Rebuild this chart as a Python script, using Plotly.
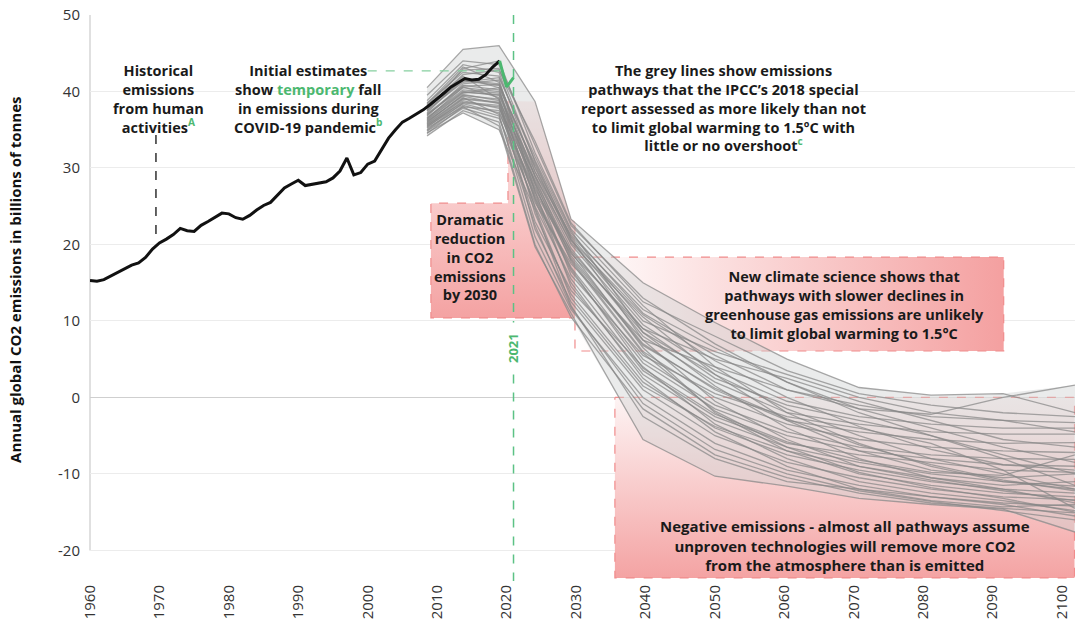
import numpy as np
import plotly.graph_objects as go

FONT = "Open Sans"

# ---------------- data ----------------
hist_years = list(range(1960, 2020))
hist_values = [15.3, 15.2, 15.4, 15.9, 16.4, 16.9, 17.3, 17.6, 18.3, 19.4,
               20.2, 20.7, 21.3, 22.1, 21.8, 21.7, 22.5, 23.0, 23.6, 24.1,
               24.0, 23.5, 23.3, 23.8, 24.5, 25.1, 25.5, 26.4, 27.4, 27.9,
               28.4, 27.7, 27.9, 28.1, 28.2, 28.7, 29.6, 31.3, 29.1, 29.4,
               30.5, 30.9, 32.4, 33.9, 35.0, 36.0, 36.5, 37.0, 37.6, 38.3,
               39.0, 39.8, 40.6, 41.1, 41.7, 41.5, 41.6, 42.2, 43.2, 44.0]

covid_years = [2019, 2020, 2021]
covid_values = [44.0, 40.6, 41.8]

path_years = [2010, 2015, 2020, 2025, 2030, 2040, 2050, 2060, 2070, 2080, 2090, 2100]
p01 = [40.5, 45.5, 46.0, 38.7, 23.3, 15.0, 9.8, 5.0, 1.3, 0.3, 0.5, -2.0]
p02 = [39.5, 44.0, 43.5, 33.0, 22.5, 13.0, 7.0, 2.0, -1.5, -2.2, 0.0, 1.6]
p03 = [38.5, 42.5, 42.0, 31.0, 21.5, 11.0, 5.5, 1.0, -1.0, -2.5, -3.0, -3.3]
p04 = [37.8, 41.5, 41.0, 30.0, 20.5, 9.5, 3.5, -0.5, -2.5, -3.5, -4.0, -4.0]
p05 = [37.0, 40.5, 40.0, 29.0, 19.5, 8.0, 2.0, -2.0, -3.5, -4.5, -4.8, -4.8]
p06 = [36.5, 40.0, 39.5, 28.0, 18.5, 7.0, 1.0, -3.0, -4.5, -5.5, -6.0, -5.9]
p07 = [36.0, 39.5, 39.0, 27.5, 18.0, 6.0, 0.0, -3.5, -5.5, -6.5, -7.0, -7.2]
p08 = [35.5, 39.0, 38.5, 26.5, 17.0, 5.0, -1.0, -4.5, -6.5, -7.5, -8.0, -8.1]
p09 = [35.0, 38.5, 38.0, 26.0, 16.5, 4.5, -1.5, -5.0, -7.0, -8.0, -8.8, -9.0]
p10 = [34.5, 38.0, 37.5, 25.0, 15.5, 3.5, -2.5, -6.0, -7.5, -8.5, -9.5, -9.8]
p11 = [36.8, 41.0, 41.5, 27.0, 14.5, 3.0, -3.0, -6.5, -8.5, -10.0, -11.0, -11.6]
p12 = [37.2, 41.8, 40.5, 24.0, 13.5, 2.0, -4.0, -7.5, -9.5, -11.0, -12.0, -12.5]
p13 = [38.0, 42.0, 39.0, 22.0, 12.5, 1.0, -5.0, -8.5, -10.5, -12.0, -13.0, -13.4]
p14 = [35.8, 39.2, 37.0, 21.0, 11.5, 0.0, -6.0, -9.5, -11.5, -13.0, -13.8, -14.2]
p15 = [34.2, 37.5, 36.0, 20.0, 10.5, -1.5, -7.5, -10.5, -12.5, -13.8, -14.5, -15.1]
p16 = [35.2, 38.0, 35.5, 19.7, 11.0, -5.5, -10.3, -11.6, -13.2, -14.0, -14.6, -17.6]
p17 = [37.5, 43.0, 44.0, 32.0, 22.0, 12.0, 4.0, -2.0, -6.0, -9.0, -11.0, -12.0]
p18 = [36.2, 39.8, 40.5, 30.5, 21.0, 10.0, 6.0, 3.0, 0.0, -2.0, -3.0, -4.5]
p19 = [38.8, 43.5, 42.5, 29.5, 20.0, 9.0, 2.5, -1.0, -3.0, -5.0, -7.5, -10.0]
p20 = [35.3, 38.8, 37.8, 28.5, 19.0, 6.5, -2.0, -7.0, -10.0, -11.5, -12.5, -13.0]
p21 = [34.8, 37.8, 36.5, 25.5, 17.5, 7.5, 4.0, 1.0, -1.5, -4.0, -6.5, -8.5]
p22 = [36.6, 40.2, 39.8, 27.8, 16.0, 5.5, 0.5, -2.5, -4.0, -6.0, -9.5, -14.5]
p23 = [37.6, 41.2, 41.8, 31.5, 21.8, 8.5, 1.5, -4.0, -8.0, -10.5, -12.0, -13.8]
p24 = [35.6, 38.6, 38.2, 23.0, 14.0, 4.0, -3.5, -8.0, -11.0, -12.5, -13.5, -14.8]
p25 = [36.9, 40.8, 40.2, 26.8, 18.8, 9.0, 5.0, 2.5, -0.5, -3.0, -5.5, -6.5]
p26 = [38.2, 42.8, 43.0, 30.8, 20.8, 7.5, -0.5, -5.5, -9.0, -10.5, -11.5, -11.0]
p27 = [34.6, 37.2, 35.0, 24.5, 12.0, -2.5, -8.0, -11.0, -12.0, -13.0, -14.0, -15.5]
p28 = [36.4, 40.6, 39.2, 25.8, 15.0, 2.5, -4.5, -9.0, -12.0, -13.5, -14.3, -14.0]
p29 = [35.9, 39.6, 38.8, 29.0, 20.2, 10.5, 3.0, -3.0, -7.0, -9.5, -10.5, -10.0]
p30 = [37.4, 41.4, 40.8, 28.2, 17.8, 5.8, -1.8, -6.5, -9.8, -11.8, -13.2, -15.0]
p31 = [36.3, 39.9, 39.6, 29.5, 21.2, 11.5, 6.5, 2.0, -2.0, -5.0, -8.0, -11.5]
p32 = [35.4, 38.4, 37.2, 27.2, 19.2, 8.5, 3.0, -1.5, -5.0, -8.0, -10.0, -12.0]
p33 = [37.9, 42.2, 42.8, 33.5, 22.8, 12.5, 8.0, 3.5, 0.5, -1.0, -2.0, -2.5]
p34 = [36.1, 39.4, 38.4, 24.8, 13.0, 1.5, -3.8, -7.0, -9.0, -10.8, -12.2, -13.5]
p35 = [34.9, 38.2, 36.8, 22.5, 11.8, -0.8, -6.8, -10.0, -12.2, -13.6, -14.8, -16.0]
p36 = [37.1, 40.7, 40.9, 30.2, 20.6, 10.8, 4.8, 0.0, -3.8, -6.8, -8.8, -9.5]
p37 = [38.4, 43.2, 41.2, 28.8, 18.2, 6.8, 1.2, -2.8, -6.2, -8.8, -10.8, -12.2]
p38 = [35.7, 39.1, 38.6, 26.2, 16.8, 3.8, -2.2, -5.8, -8.2, -9.8, -10.2, -7.5]
pathways = [p01, p02, p03, p04, p05, p06, p07, p08, p09, p10,
            p11, p12, p13, p14, p15, p16, p17, p18, p19, p20,
            p21, p22, p23, p24, p25, p26, p27, p28, p29, p30,
            p31, p32, p33, p34, p35, p36, p37, p38]

x_ticks = list(range(1960, 2101, 10))
y_ticks = [-20, -10, 0, 10, 20, 30, 40, 50]
y_tick_text = ["-20", "-10", "0", "10", "20", "30", "40", "50"]

# ---------------- figure ----------------
fig = go.Figure()

BORDER = "#f08c8c"

# Box 1: dramatic reduction (upper part follows the pathway envelope)
fig.add_trace(go.Scatter(
    x=[2009.1, 2020.2, 2020.2, 2024.1, 2029.3, 2029.85, 2029.85, 2009.1, 2009.1],
    y=[25.4, 25.4, 38.75, 38.7, 23.3, 23.0, 10.4, 10.4, 25.4],
    mode="lines", line=dict(width=0), fill="toself",
    fillgradient=dict(type="vertical",
                      colorscale=[[0, "#f4a2a2"], [1, "#fdeeee"]]),
    hoverinfo="skip", showlegend=False))
fig.add_trace(go.Scatter(
    x=[2020.2, 2020.2, 2009.1, 2009.1, 2029.85, 2029.85],
    y=[38.75, 25.4, 25.4, 10.4, 10.4, 23.0],
    mode="lines", line=dict(color=BORDER, width=1.2, dash="dash"),
    hoverinfo="skip", showlegend=False))

# Box 2: new climate science
fig.add_trace(go.Scatter(
    x=[2029.85, 2091.6, 2091.6, 2029.85, 2029.85],
    y=[18.35, 18.35, 6.07, 6.07, 18.35],
    mode="lines", line=dict(color=BORDER, width=1.2, dash="dash"), fill="toself",
    fillgradient=dict(type="horizontal",
                      colorscale=[[0, "#ffffff"], [1, "#f4a0a0"]]),
    hoverinfo="skip", showlegend=False))

# Box 3: negative emissions
fig.add_trace(go.Scatter(
    x=[2035.6, 2101.8, 2101.8, 2035.6, 2035.6],
    y=[0, 0, -23.6, -23.6, 0],
    mode="lines", line=dict(color=BORDER, width=1.2, dash="dash"), fill="toself",
    fillgradient=dict(type="vertical",
                      colorscale=[[0, "#f4a3a3"], [1, "#fdf4f4"]]),
    hoverinfo="skip", showlegend=False))

# Envelope of pathways
arr = np.array(pathways)
env_max = arr.max(axis=0)
env_min = arr.min(axis=0)
fig.add_trace(go.Scatter(
    x=path_years + path_years[::-1],
    y=list(env_max) + list(env_min[::-1]),
    mode="lines", line=dict(width=0), fill="toself",
    fillcolor="rgba(205,208,208,0.42)",
    xaxis="x2", hoverinfo="skip", showlegend=False))

for p in pathways:
    fig.add_trace(go.Scatter(
        x=path_years, y=p, mode="lines",
        line=dict(color="rgba(135,135,135,0.72)", width=1.3),
        xaxis="x2", hoverinfo="skip", showlegend=False))

# Historical emissions
fig.add_trace(go.Scatter(
    x=hist_years, y=hist_values, mode="lines",
    line=dict(color="#111111", width=3),
    xaxis="x3", hoverinfo="skip", showlegend=False))
fig.add_trace(go.Scatter(
    x=covid_years, y=covid_values, mode="lines",
    line=dict(color="#4cb870", width=3),
    xaxis="x3", hoverinfo="skip", showlegend=False))

# ---------------- shapes ----------------
GREEN_DASH = "#5cc285"
shapes = [
    dict(type="line", xref="paper", yref="y", x0=0, x1=0, y0=-20, y1=50,
         line=dict(color="#d6d6d6", width=1.5), layer="below"),
    dict(type="line", xref="x", yref="y", x0=2021, x1=2021, y0=50, y1=9.8,
         line=dict(color=GREEN_DASH, width=1.5, dash="dash"), layer="above"),
    dict(type="line", xref="x", yref="y", x0=2021, x1=2021, y0=3.0, y1=-24,
         line=dict(color=GREEN_DASH, width=1.5, dash="dash"), layer="above"),
    dict(type="line", xref="x", yref="y", x0=2000.0, x1=2019, y0=42.7, y1=42.7,
         line=dict(color="#86d0a0", width=1.3, dash="dash"), layer="above"),
    dict(type="line", xref="x", yref="y", x0=1969.5, x1=1969.5, y0=34.3, y1=20.8,
         line=dict(color="#111111", width=1.3, dash="dash"), layer="above"),
]

TS = 14.5


def note(text, x, y, size=TS, **kw):
    d = dict(x=x, y=y, xref="x", yref="y", text=text, showarrow=False,
             font=dict(family=FONT, size=size, color="#1a1a1a"),
             align="center", xanchor="center", yanchor="middle")
    d.update(kw)
    return d


GS = "<span style='color:#4cb870'>"
annotations = [
    note("<b>Historical<br>emissions<br>from human<br>activities" + GS + "<sup>A</sup></span></b>",
         1969.9, 39.0),
    note("<b>Initial estimates<br>show " + GS + "temporary</span> fall<br>in emissions during<br>COVID-19 pandemic"
         + GS + "<sup>b</sup></span></b>", 1991.5, 39.0),
    note("<b>The grey lines show emissions<br>pathways that the IPCC’s 2018 special<br>"
         "report assessed as more likely than not<br>to limit global warming to 1.5ºC with<br>"
         "little or no overshoot" + GS + "<sup>c</sup></span></b>", 2051.2, 37.8),
    note("<b>Dramatic<br>reduction<br>in CO2<br>emissions<br>by 2030</b>", 2014.7, 18.4),
    note("<b>New climate science shows that<br>pathways with slower declines in<br>"
         "greenhouse gas emissions are unlikely<br>to limit global warming to 1.5°C</b>",
         2068.7, 12.15),
    note("<b>Negative emissions - almost all pathways assume<br>unproven technologies will remove more CO2<br>"
         "from the atmosphere than is emitted</b>", 2068.7, -19.4, size=15),
    note("<b>2021</b>", 2021, 6.4, textangle=-90,
         font=dict(family=FONT, size=13, color="#4cb870")),
    dict(x=-0.0761, y=0.532, xref="paper", yref="paper", textangle=-90,
         text="<b>Annual global CO2 emissions in billions of tonnes</b>",
         showarrow=False, xanchor="center", yanchor="middle",
         font=dict(family=FONT, size=15, color="#111111")),
]

X_MAIN = [1960, 2101.87]
fig.update_layout(
    width=1076, height=629,
    margin=dict(l=90, r=1, t=15, b=48),
    paper_bgcolor="white", plot_bgcolor="white",
    showlegend=False,
    xaxis=dict(range=X_MAIN, tickvals=x_ticks, ticktext=[str(t) for t in x_ticks],
               tickangle=-90, showgrid=False, zeroline=False, showline=False,
               automargin=False, ticks="",
               tickfont=dict(family=FONT, size=15, color="#333333")),
    xaxis2=dict(range=[1963.19, 2100], overlaying="x", visible=False),
    xaxis3=dict(matches="x", overlaying="x", visible=False),
    yaxis=dict(range=[-24, 50], tickvals=y_ticks, ticktext=y_tick_text,
               showgrid=True, automargin=False,
               gridcolor="#ececec", gridwidth=1, zeroline=True,
               zerolinecolor="#cfcfcf", zerolinewidth=1, showline=False,
               ticks="", ticklabelstandoff=9,
               tickfont=dict(family=FONT, size=15, color="#333333")),
    shapes=shapes,
    annotations=annotations,
)

fig.write_html("out.html", config={"displayModeBar": False},
               post_script="document.body.style.margin='0';")
